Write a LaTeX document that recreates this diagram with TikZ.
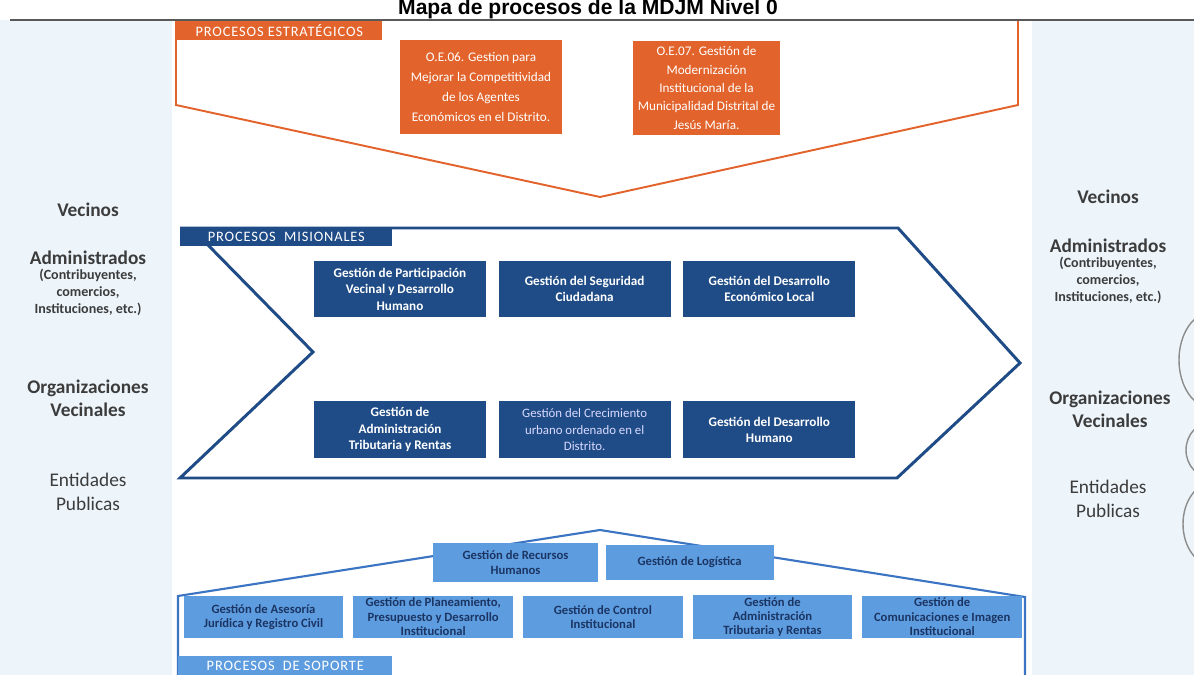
\documentclass[tikz,border=0pt]{standalone}
\usepackage{fontspec}
\setmainfont{Carlito}
\newfontfamily\titulofont{Liberation Sans}
\usepackage{xcolor}
\usetikzlibrary{positioning,chains}

\definecolor{estnaranja}{HTML}{E2642C}
\definecolor{misazul}{HTML}{1F4C86}
\definecolor{sopazul}{HTML}{5E9CE0}
\definecolor{soplinea}{HTML}{3B74C2}
\definecolor{soptexto}{HTML}{1B3563}
\definecolor{fondolado}{HTML}{EDF5FB}
\definecolor{textogris}{HTML}{3C3C3C}

\begin{document}
\begin{tikzpicture}[
  x=0.02cm, y=-0.02cm,
  every node/.append style={
    align=center,
    inner sep=1pt
  },
  estrategico/.style={fill=estnaranja, text=white, minimum height=1.9cm, font=\fontsize{7.5}{11.2}\selectfont},
  misional/.style={fill=misazul, text=white, minimum width=3.44cm, minimum height=1.14cm, font=\bfseries\fontsize{7.5}{9.4}\selectfont},
  soporte/.style={fill=sopazul, text=soptexto, minimum width=3.2cm, minimum height=0.84cm, font=\bfseries\fontsize{7.2}{8.2}\selectfont},
  etiqueta/.style={fill=#1, text=white, anchor=north west, minimum height=0.37cm, font=\fontsize{8.2}{8.5}\selectfont\addfontfeature{LetterSpace=6}},
  actor/.style={text=textogris, font=\bfseries\fontsize{11}{13}\selectfont},
  actor sub/.style={text=textogris, font=\bfseries\fontsize{8}{9.6}\selectfont},
  actor fino/.style={text=textogris, font=\fontsize{11}{13.5}\selectfont}
]
\useasboundingbox (0,0) rectangle (1194,675);

% fondo
\fill[fondolado] (0,0) rectangle (1194,675);
\fill[white] (0,0) rectangle (1194,20);
\fill[white] (172,20) rectangle (1032,675);

% titulo
\node[anchor=base, font=\titulofont\bfseries\fontsize{12}{14}\selectfont] (titulo) at (588,15) {Mapa de procesos de la MDJM Nivel 0};

% procesos estrategicos
\draw[estnaranja, line width=1.1pt, line join=miter] (176,21) -- (176,105) -- (600,197) -- (1018,105) -- (1018,21);
\draw[black!65, line width=1.2pt] (10,20) -- (1194,20);
\node[etiqueta=estnaranja, minimum width=4.12cm] (tabest) at (176,21) {PROCESOS ESTRATÉGICOS};

\node[estrategico, minimum width=3.24cm] (oe06) at (481,87) {O.E.06. Gestion para\\ Mejorar la Competitividad\\ de los Agentes\\ Económicos en el Distrito.};
\node[estrategico, minimum width=2.94cm, font=\fontsize{7.5}{10.4}\selectfont] (oe07) at (706.5,88) {O.E.07. Gestión de\\ Modernización\\ Institucional de la\\ Municipalidad Distrital de\\ Jesús María.};

% procesos misionales
\draw[misazul, line width=1.7pt, line join=miter] (180,228) -- (898,228) -- (1020,363) -- (897,478) -- (180,478) -- (313,352) -- (208,245);
\node[etiqueta=misazul, minimum width=4.24cm] (tabmis) at (180,227) {PROCESOS\ \ MISIONALES};

\node[misional] (mis1) at (400,289) {Gestión de Participación\\ Vecinal y Desarrollo\\ Humano};
\node[misional, right=0.24cm of mis1] (mis2) {Gestión del Seguridad\\ Ciudadana};
\node[misional, right=0.24cm of mis2] (mis3) {Gestión del Desarrollo\\ Económico Local};
\node[misional, below=1.66cm of mis1] (mis4) {Gestión de\\ Administración\\ Tributaria y Rentas};
\node[misional, right=0.24cm of mis4, font=\fontsize{7.3}{9.4}\selectfont, text=blue!15!white] (mis5) {Gestión del Crecimiento\\ urbano ordenado en el\\ Distrito.};
\node[misional, right=0.24cm of mis5] (mis6) {Gestión del Desarrollo\\ Humano};

% procesos de soporte
\draw[soplinea, line width=1.2pt, line join=miter] (178,680) -- (178,596) -- (600,530) -- (1025,597) -- (1025,680);

\node[soporte, minimum width=3.3cm, minimum height=0.78cm] (rrhh) at (515.5,562.5) {Gestión de Recursos\\ Humanos};
\node[soporte, minimum width=3.36cm, minimum height=0.72cm, right=0.14cm of rrhh] (logis) {Gestión de Logística};

\begin{scope}[start chain=soporte going right, node distance=0.18cm]
  \node[soporte, on chain] (sop1) at (263.5,617) {Gestión de Asesoría\\ Jurídica y Registro Civil};
  \node[soporte, on chain] (sop2) {Gestión de Planeamiento,\\ Presupuesto y Desarrollo\\ Institucional};
  \node[soporte, on chain] (sop3) {Gestión de Control\\ Institucional};
  \node[soporte, on chain] (sop4) {Gestión de\\ Administración\\ Tributaria y Rentas};
  \node[soporte, on chain] (sop5) {Gestión de\\ Comunicaciones e Imagen\\ Institucional};
\end{scope}

\node[etiqueta=sopazul, minimum width=4.28cm] (tabsop) at (178,656) {PROCESOS\ \ DE SOPORTE};

% actores, izquierda
\node[actor] (vec1) at (88,210) {Vecinos};
\node[actor] (adm1) at (88,258) {Administrados};
\node[actor sub, below=0pt of adm1] (par1) {(Contribuyentes,\\ comercios,\\ Instituciones, etc.)};
\node[actor] (org1) at (88,398) {Organizaciones\\ Vecinales};
\node[actor fino] (ent1) at (88,492) {Entidades\\ Publicas};

% actores, derecha
\node[actor] (vec2) at (1108,197) {Vecinos};
\node[actor] (adm2) at (1108,246) {Administrados};
\node[actor sub, below=0pt of adm2] (par2) {(Contribuyentes,\\ comercios,\\ Instituciones, etc.)};
\node[actor] (org2) at (1110,409) {Organizaciones\\ Vecinales};
\node[actor fino] (ent2) at (1108,499) {Entidades\\ Publicas};

% bordes recortados a la derecha
\draw[black!45, line width=0.8pt] (1212,360) ellipse [x radius=33, y radius=48];
\draw[black!45, line width=0.8pt] (1212,450) ellipse [x radius=26, y radius=28];
\draw[black!45, line width=0.8pt] (1214,524) ellipse [x radius=31, y radius=42];
\end{tikzpicture}
\end{document}
